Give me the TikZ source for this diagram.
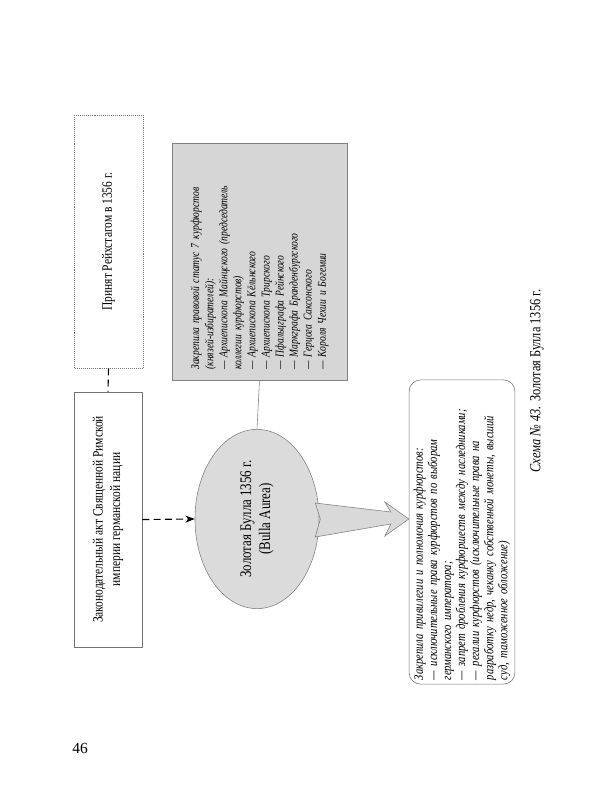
\documentclass[tikz,border=0pt]{standalone}
\usepackage{fontspec}
\setmainfont{Liberation Serif}[FakeStretch=0.8]
\newfontfamily\plainfont{Liberation Serif}
\usetikzlibrary{arrows.meta,positioning,shapes.geometric,calc}

\begin{document}
\begin{tikzpicture}[
    x=0.025cm, y=-0.025cm,
    >=Stealth,
    box/.style={draw=gray!90!black, rotate=90, align=center, inner sep=0pt, font=\fontsize{10.2}{12.5}\selectfont},
    note/.style={rotate=90, align=left, font=\fontsize{8.5}{10}\selectfont\itshape},
    dashline/.style={thick, dash pattern=on 5pt off 3pt}
]
\useasboundingbox (0,0) rectangle (600,800);

\node[box, densely dotted, minimum width=6.325cm, minimum height=1.725cm] (adopted) at (108.5,241.5) {Принят Рейхстагом в 1356 г.};
\node[box, minimum width=6.375cm, minimum height=1.7cm] (act) at (108,519.5) {Законодательный акт Священной Римской\\ империи германской нации};
\node[ellipse, draw=gray, fill=gray!28, rotate=90, align=center, minimum width=4.4cm, minimum height=3.1cm, font=\fontsize{11.5}{13.5}\selectfont] (bulla) at (257,519) {Золотая Булла 1356 г.\\ (Bulla Aurea)};
\node[note, draw=gray, fill=gray!32, minimum width=5.925cm, minimum height=4.375cm, text width=5.4cm, inner xsep=0.25cm] (status) at (259.5,261.5) {Закрепила правовой статус 7 курфюрстов\\ (князей-избирателей):\\ --- Архиепископа Майнцского (председатель\\ коллегии курфюрстов)\\ --- Архиепископа Кёльнского\\ --- Архиепископа Трирского\\ --- Пфальцграфа Рейнского\\ --- Маркграфа Бранденбургского\\ --- Герцога Саксонского\\ --- Короля Чехии и Богемии};
\node[note, draw=gray!90!black, rounded corners=8pt, minimum width=7.6cm, minimum height=2.6cm, text width=7.4cm, inner xsep=0.1cm, font=\fontsize{9.4}{10}\selectfont\itshape] (rights) at (462,532) {Закрепила привилегии и полномочия курфюрстов:\\ --- исключительные права курфюрстов по выборам\\ германского императора;\\ --- запрет дробления курфюршеств между наследниками;\\ --- регалии курфюрстов (исключительные права на\\ разработку недр, чеканку собственной монеты, высший\\ суд, таможенное обложение)};

\node[rotate=90, font=\fontsize{11}{13}\selectfont] (caption) at (537,381) {\textit{Схема №~43.} Золотая Булла 1356 г.};
\node[font=\plainfont\fontsize{11}{13}\selectfont] (page) at (80,748) {46};

% connectors
\draw[dashline] (adopted.west) -- (act.east);
\draw[dashline, ->] (act.south) -- (bulla.north);
\draw[gray] (bulla.east) -- (status.west);
\coordinate (tip) at (bulla.south -| rights.north);
\draw[gray, fill=gray!30] ($(bulla.south)+(-4,-16)$) -- ($(tip)+(-18,-7)$) -- ($(tip)+(-24,-17)$) -- (tip)
    -- ($(tip)+(-24,17)$) -- ($(tip)+(-18,5)$) -- ($(bulla.south)+(-4,18)$) -- ($(bulla.south)+(1,0)$) -- cycle;
\end{tikzpicture}
\end{document}
